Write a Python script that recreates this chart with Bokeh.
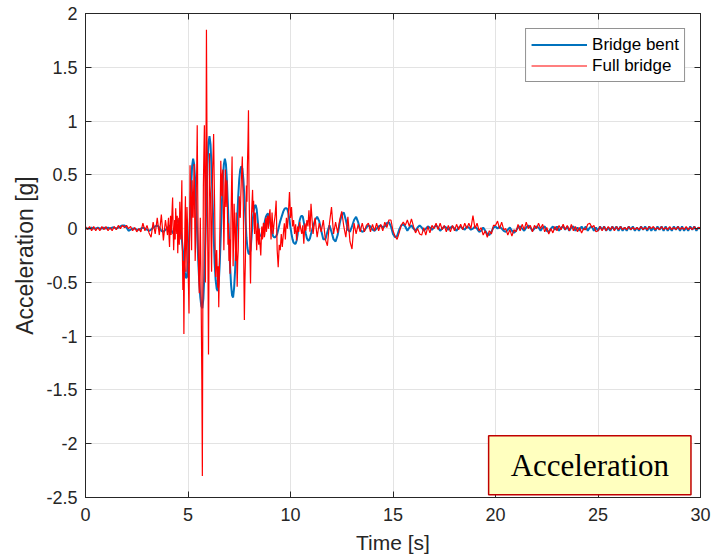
from bokeh.plotting import figure
from bokeh.models import (LinearAxis, FixedTicker, CustomJSTickFormatter, Label,
                          Range1d, Legend, LegendItem)
from bokeh.embed import file_html
from bokeh.resources import INLINE

# ---- sampling segments: (start [s], step [s], number of samples) ----
bent_segs = [(0.0, 0.1, 40), (4.0, 0.05, 140), (11.0, 0.1, 191)]
full_segs = [(0.0, 0.1, 40), (4.0, 0.025, 200), (9.0, 0.05, 40), (11.0, 0.1, 191)]

# ---- Bridge bent acceleration [g] ----
bent_a = [0.00, 0.00, 0.00, 0.01, 0.00, 0.00, 0.01, 0.00, 0.00, 0.01,
          0.00, 0.01, 0.00, 0.01, 0.01, 0.00, 0.01, 0.02, 0.03, 0.03,
          0.01, -0.02, -0.01, 0.00, 0.00, -0.01, -0.01, 0.00, 0.01, 0.00,
          -0.01, -0.02, -0.01, 0.01, 0.02, 0.03, 0.01, -0.02, -0.03, -0.01]
bent_b = [0.00, 0.02, 0.03, 0.01, -0.02, -0.04, -0.04, -0.01, 0.03, 0.07,
          0.08, 0.05, 0.02, -0.02, -0.10, -0.20, -0.32, -0.41, -0.46, -0.45,
          -0.32, -0.12, 0.12, 0.38, 0.58, 0.65, 0.60, 0.45, 0.22, -0.05,
          -0.30, -0.50, -0.64, -0.72, -0.74, -0.65, -0.42, -0.08, 0.28, 0.60,
          0.80, 0.86, 0.78, 0.56, 0.26, -0.06, -0.32, -0.48, -0.56, -0.58,
          -0.50, -0.32, -0.06, 0.22, 0.46, 0.60, 0.65, 0.60, 0.44, 0.20,
          -0.08, -0.34, -0.52, -0.62, -0.64, -0.55, -0.38, -0.16, 0.08, 0.30,
          0.46, 0.55, 0.58, 0.56, 0.46, 0.30, 0.10, -0.08, -0.18, -0.23,
          -0.24, -0.20, -0.08, 0.06, 0.16, 0.21, 0.22, 0.18, 0.08, -0.02,
          -0.06, -0.07, -0.06, -0.03, 0.02, 0.07, 0.11, 0.13, 0.14, 0.11,
          0.06, 0.01, -0.03, -0.07, -0.08, -0.08, -0.07, -0.05, -0.01, 0.03,
          0.07, 0.10, 0.13, 0.16, 0.18, 0.19, 0.19, 0.18, 0.14, 0.08,
          0.01, -0.05, -0.10, -0.13, -0.14, -0.14, -0.11, -0.05, 0.02, 0.08,
          0.11, 0.12, 0.11, 0.06, 0.00, -0.05, -0.09, -0.11, -0.11, -0.09]
bent_c = [-0.05, 0.02, 0.08, 0.11, 0.07, -0.02, -0.10, -0.10, -0.03, 0.03,
          -0.03, -0.10, -0.12, -0.06, 0.05, 0.13, 0.15, 0.08, -0.01, -0.03,
          0.02, 0.08, 0.11, 0.06, -0.01, -0.03, -0.02, 0.01, 0.03, 0.02,
          -0.01, -0.02, 0.00, 0.02, 0.03, 0.01, 0.02, 0.05, 0.06, 0.02,
          -0.05, -0.08, -0.07, -0.01, 0.03, 0.04, 0.02, -0.02, 0.01, 0.03,
          0.00, -0.02, 0.01, 0.03, 0.01, -0.02, 0.00, 0.02, 0.01, -0.01,
          0.01, 0.03, 0.01, -0.02, 0.00, 0.02, 0.01, -0.01, 0.01, 0.02,
          0.00, -0.02, 0.01, 0.02, 0.00, -0.01, 0.02, 0.01, -0.01, 0.00,
          0.02, 0.00, -0.03, -0.02, 0.01, -0.02, -0.05, -0.06, -0.03, 0.01,
          0.02, 0.00, 0.02, 0.00, -0.02, -0.03, -0.01, 0.01, -0.02, -0.04,
          -0.02, 0.01, 0.02, 0.00, -0.02, 0.01, 0.03, 0.01, -0.02, 0.00,
          0.02, 0.01, -0.02, 0.01, 0.02, -0.02, -0.03, 0.00, 0.02, -0.01,
          0.02, -0.02, 0.01, 0.02, -0.01, 0.02, -0.02, 0.01, 0.02, -0.02,
          0.01, -0.02, 0.02, -0.01, 0.02, -0.02, 0.01, 0.02, -0.02, 0.01,
          -0.02, 0.02, -0.01, 0.02, -0.02, 0.01, -0.02, 0.02, -0.01, 0.02,
          -0.02, 0.02, -0.02, 0.01, -0.02, 0.02, -0.01, 0.02, -0.02, 0.01,
          -0.02, 0.02, -0.01, 0.02, -0.02, 0.02, -0.02, 0.01, -0.02, 0.02,
          -0.01, 0.02, -0.02, 0.02, -0.02, 0.01, -0.02, 0.02, -0.01, 0.02,
          -0.02, 0.02, -0.02, 0.01, -0.02, 0.02, -0.01, 0.02, -0.02, 0.01,
          0.00]

# ---- Full bridge acceleration [g] ----
full_a = [0.02, -0.01, 0.02, -0.02, 0.02, -0.02, 0.01, -0.02, 0.02, -0.01,
          0.02, -0.02, 0.01, -0.02, 0.02, -0.01, 0.03, 0.00, 0.03, 0.01,
          0.03, 0.00, 0.02, -0.02, 0.01, -0.03, 0.00, -0.03, 0.05, -0.02,
          0.03, -0.04, -0.08, 0.06, -0.05, 0.10, -0.06, 0.13, -0.11, 0.08]
full_b = [-0.06, 0.04, 0.10, -0.08, -0.17, 0.02, 0.12, -0.06, 0.05, 0.18,
          0.29, 0.02, -0.20, -0.05, 0.08, -0.10, 0.19, 0.06, -0.05, 0.12,
          -0.23, -0.05, 0.10, -0.15, 0.25, 0.05, -0.10, 0.20, 0.45, -0.20,
          -0.57, -0.30, -0.98, -0.35, 0.05, 0.30, -0.40, -0.15, 0.20, 0.05,
          -0.30, -0.55, -0.79, -0.10, 0.59, 0.35, 0.20, -0.20, 0.45, 0.25,
          0.10, 0.35, 0.60, 0.15, -0.30, -0.10, 0.30, 0.55, 0.96, 0.30,
          -0.20, -0.45, -0.60, -0.20, 0.10, -0.30, -0.85, -1.40, -2.30, -0.60,
          0.40, 0.70, 0.96, 0.40, -0.50, 0.50, 1.85, 0.90, 0.20, -0.40,
          -1.17, -0.30, 0.70, 0.40, 0.30, -0.10, -0.40, 0.10, 0.55, 0.70,
          0.88, 0.50, 0.20, -0.20, -0.45, -0.30, -0.20, -0.40, -0.55, -0.35,
          -0.73, -0.45, -0.10, 0.25, 0.63, 0.45, 0.30, 0.50, 0.55, 0.15,
          -0.20, 0.10, 0.40, 0.55, 0.20, 0.35, 0.45, 0.15, -0.15, 0.05,
          -0.30, -0.10, -0.42, -0.25, 0.10, 0.40, 0.67, 0.10, -0.35, -0.10,
          0.23, 0.05, -0.10, -0.30, 0.15, -0.25, -0.54, -0.30, -0.20, 0.05,
          0.30, 0.15, 0.10, 0.30, 0.45, 0.55, 0.67, 0.40, 0.20, -0.40,
          -0.85, -0.50, -0.30, 0.10, 0.40, 0.25, 0.60, 0.80, 1.10, 0.40,
          0.10, -0.25, -0.51, -0.20, 0.14, 0.25, 0.36, 0.15, 0.26, 0.05,
          -0.05, 0.15, 0.10, -0.05, -0.20, -0.05, 0.05, -0.10, -0.15, 0.00,
          -0.11, -0.18, -0.25, -0.10, 0.02, -0.10, -0.08, 0.05, 0.05, -0.08,
          -0.05, 0.05, 0.10, -0.03, 0.02, 0.12, 0.11, 0.00, 0.08, 0.15]
full_b2 = [0.18, -0.10, 0.15, -0.05, 0.05, 0.12, 0.26, -0.20, -0.36, -0.15,
           -0.20, -0.05, -0.17, -0.05, 0.05, -0.10, 0.10, 0.00, 0.15, 0.34,
           0.10, 0.20, 0.02, 0.08, -0.05, 0.04, -0.11, 0.02, -0.03, 0.06,
           0.00, -0.05, 0.03, -0.14, 0.05, -0.02, 0.08, 0.02, 0.17, -0.03]
full_c = [0.23, -0.05, 0.10, -0.08, 0.05, -0.03, 0.08, -0.10, -0.16, 0.05,
          0.20, -0.05, 0.06, -0.04, 0.08, 0.16, 0.02, -0.08, 0.11, -0.12,
          -0.19, 0.05, -0.05, 0.04, -0.03, 0.05, -0.03, 0.03, 0.05, -0.03,
          0.04, -0.02, 0.05, -0.02, 0.04, -0.02, 0.06, 0.01, 0.08, 0.08,
          -0.02, -0.07, -0.10, -0.04, 0.03, 0.06, 0.03, 0.08, 0.02, 0.09,
          0.02, -0.04, 0.00, -0.05, -0.06, 0.01, -0.06, 0.02, -0.04, 0.03,
          0.00, 0.05, -0.01, 0.05, -0.01, 0.03, -0.03, 0.03, -0.03, 0.03,
          -0.02, 0.04, -0.01, 0.04, -0.01, 0.05, 0.00, 0.05, 0.00, 0.12,
          0.00, 0.05, -0.02, 0.01, -0.06, -0.02, -0.08, -0.02, -0.05, 0.03,
          0.03, 0.07, 0.00, 0.06, -0.01, 0.00, -0.06, -0.01, -0.07, -0.01,
          -0.03, 0.04, -0.02, 0.04, -0.01, 0.06, 0.00, 0.03, -0.03, 0.03,
          0.00, 0.05, 0.00, 0.04, -0.03, 0.01, -0.05, 0.00, -0.04, 0.02,
          -0.02, 0.03, -0.01, 0.04, -0.01, 0.03, -0.02, 0.04, -0.02, 0.02,
          -0.03, 0.01, -0.04, 0.00, -0.01, 0.04, 0.05, 0.01, 0.03, -0.03,
          -0.02, 0.02, -0.02, 0.02, -0.02, 0.02, -0.01, 0.02, -0.02, 0.02,
          -0.01, 0.02, -0.01, 0.01, -0.01, 0.02, -0.01, 0.01, -0.01, 0.01,
          -0.01, 0.02, -0.01, 0.01, -0.01, 0.02, 0.00, 0.02, -0.01, 0.01,
          -0.01, 0.02, -0.01, 0.01, -0.01, 0.02, -0.01, 0.01, -0.01, 0.02,
          -0.01, 0.01, -0.01, 0.02, -0.01, 0.01, -0.01, 0.02, -0.01, 0.01,
          0.01]

x_ticks = [0, 5, 10, 15, 20, 25, 30]
y_ticks = [-2.5, -2, -1.5, -1, -0.5, 0, 0.5, 1, 1.5, 2]
series_labels = ["Bridge bent", "Full bridge"]
x_label = "Time [s]"
y_label = "Acceleration [g]"
box_text = "Acceleration"


def sample_times(segs):
    out = []
    for start, step, n in segs:
        out += [round(start + step * i, 4) for i in range(n)]
    return out


bent_t = sample_times(bent_segs)
full_t = sample_times(full_segs)
bent = bent_a + bent_b + bent_c
full = full_a + full_b + full_b2 + full_c

TXT = "#262626"
FONT = "Liberation Sans"

p = figure(width=712, height=558, x_range=Range1d(0, 30), y_range=Range1d(-2.5, 2),
           output_backend="svg", toolbar_location=None,
           min_border_left=85, min_border_right=12, min_border_top=13, min_border_bottom=61,
           x_axis_label=x_label, y_axis_label=y_label)
p.background_fill_color = "white"
p.border_fill_color = "white"
p.outline_line_color = TXT
p.outline_line_width = 1

fmt = CustomJSTickFormatter(code="return tick.toString();")
blank = CustomJSTickFormatter(code="return '';")

for ax, ticks in ((p.xaxis[0], x_ticks), (p.yaxis[0], y_ticks)):
    ax.ticker = FixedTicker(ticks=ticks)
    ax.formatter = fmt
    ax.axis_line_color = TXT
    ax.major_tick_line_color = TXT
    ax.major_tick_in = 6
    ax.major_tick_out = 0
    ax.minor_tick_line_color = None
    ax.major_label_text_font = FONT
    ax.major_label_text_font_size = "18px"
    ax.major_label_text_color = TXT
    ax.axis_label_text_font = FONT
    ax.axis_label_text_font_style = "normal"
    ax.axis_label_text_color = TXT

p.xaxis[0].major_label_standoff = 10
p.xaxis[0].axis_label_text_font_size = "21px"
p.xaxis[0].axis_label_standoff = 7
p.yaxis[0].major_label_standoff = 8
p.yaxis[0].axis_label_text_font_size = "23px"
p.yaxis[0].axis_label_standoff = 5

for side, ticks in (("right", y_ticks), ("above", x_ticks)):
    ax = LinearAxis(ticker=FixedTicker(ticks=ticks), formatter=blank,
                    axis_line_color=TXT, major_tick_line_color=TXT,
                    major_tick_in=6, major_tick_out=0, minor_tick_line_color=None,
                    major_label_standoff=0, major_label_text_font_size="1px")
    p.add_layout(ax, side)

p.xgrid.ticker = FixedTicker(ticks=x_ticks)
p.ygrid.ticker = FixedTicker(ticks=y_ticks)
p.xgrid.grid_line_color = "#e3e3e3"
p.ygrid.grid_line_color = "#e3e3e3"

r_bent = p.line(bent_t, bent, line_color="#0072BD", line_width=2)
r_full = p.line(full_t, full, line_color="#ff0000", line_width=1.2)

legend = Legend(items=[LegendItem(label=series_labels[0], renderers=[r_bent]),
                       LegendItem(label=series_labels[1], renderers=[r_full])],
                location="top_right", margin=15, padding=5, spacing=0,
                glyph_width=56, glyph_height=21, label_height=21, label_standoff=5,
                label_text_font=FONT, label_text_font_size="17px", label_text_color="black",
                border_line_color=TXT, border_line_width=1,
                background_fill_color="white", background_fill_alpha=1)
p.add_layout(legend)

note = Label(x=24.6, y=-2.2, text=box_text, text_font="Liberation Serif",
             text_font_size="31px", text_color="black", text_align="center",
             text_baseline="middle", background_fill_color="#ffffbf",
             border_line_color="#c00000", border_line_width=1.5, padding=(22, 12))
p.add_layout(note)

open("out.html", "w").write(file_html(p, INLINE))
